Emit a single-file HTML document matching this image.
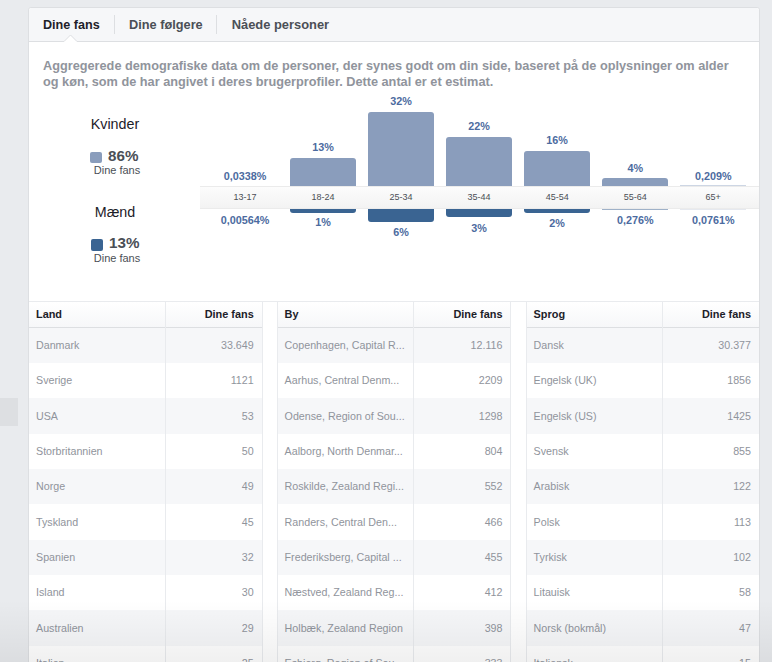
<!DOCTYPE html>
<html><head><meta charset="utf-8"><style>
html,body{margin:0;padding:0}
body{width:772px;height:662px;overflow:hidden;position:relative;background:#e9ebee;font-family:"Liberation Sans", sans-serif}
.t{position:absolute;white-space:nowrap}
</style></head><body>
<div style="position:absolute;left:0;top:398px;width:18px;height:28px;background:#dddfe2"></div>
<div style="position:absolute;left:28px;top:7px;width:730px;height:700px;background:#fff;border:1px solid #dddfe2;border-radius:3px"></div>
<div style="position:absolute;left:29px;top:8px;width:730px;height:33px;background:#f6f7f9;border-bottom:1px solid #dddfe2;border-radius:3px 3px 0 0"></div>
<div style="position:absolute;left:114px;top:15px;width:1px;height:19px;background:#dddfe2"></div>
<div style="position:absolute;left:216px;top:15px;width:1px;height:19px;background:#dddfe2"></div>
<svg style="position:absolute;left:62px;top:34px" width="18" height="9" viewBox="0 0 18 9"><path d="M0 7.5 L2 7.5 L8.5 1 L15 7.5 L18 7.5 L18 9 L0 9 Z" fill="#fff"/><path d="M0 7.5 L2 7.5 L8.5 1 L15 7.5 L18 7.5" fill="none" stroke="#dddfe2" stroke-width="1"/></svg>
<div class="t" style="left:43px;top:19.33px;font-size:12.6px;line-height:12.6px;color:#1d2129;font-weight:bold;">Dine fans</div>
<div class="t" style="left:129px;top:19.21px;font-size:12.75px;line-height:12.75px;color:#4b4f56;font-weight:bold;">Dine følgere</div>
<div class="t" style="left:231.7px;top:19.08px;font-size:12.9px;line-height:12.9px;color:#4b4f56;font-weight:bold;">Nåede personer</div>
<div class="t" style="left:43px;top:59.83px;font-size:12.72px;line-height:12.72px;color:#90949c;font-weight:bold;">Aggregerede demografiske data om de personer, der synes godt om din side, baseret på de oplysninger om alder</div>
<div class="t" style="left:43px;top:75.83px;font-size:12.72px;line-height:12.72px;color:#90949c;font-weight:bold;">og køn, som de har angivet i deres brugerprofiler. Dette antal er et estimat.</div>
<div class="t" style="left:-85px;width:400px;text-align:center;top:116.70px;font-size:14.3px;line-height:14.3px;color:#1d2129;font-weight:normal;">Kvinder</div>
<div style="position:absolute;left:90px;top:152px;width:12px;height:11px;background:#8a9dbc;border-radius:2px"></div>
<div class="t" style="left:108px;top:148.03px;font-size:15.2px;line-height:15.2px;color:#4b4f56;font-weight:bold;">86%</div>
<div class="t" style="left:-83px;width:400px;text-align:center;top:165.29px;font-size:11px;line-height:11px;color:#4b4f56;font-weight:normal;">Dine fans</div>
<div class="t" style="left:-85px;width:400px;text-align:center;top:204.60px;font-size:14.3px;line-height:14.3px;color:#1d2129;font-weight:normal;">Mænd</div>
<div style="position:absolute;left:91px;top:239px;width:11.5px;height:11.5px;background:#3a6492;border-radius:2px"></div>
<div class="t" style="left:109px;top:234.53px;font-size:15.2px;line-height:15.2px;color:#4b4f56;font-weight:bold;">13%</div>
<div class="t" style="left:-83px;width:400px;text-align:center;top:252.99px;font-size:11px;line-height:11px;color:#4b4f56;font-weight:normal;">Dine fans</div>
<div class="t" style="left:45.0px;width:400px;text-align:center;top:170.86px;font-size:10.8px;line-height:10.8px;color:#4c6ba0;font-weight:bold;">0,0338%</div>
<div class="t" style="left:45.0px;width:400px;text-align:center;top:214.86px;font-size:10.8px;line-height:10.8px;color:#4c6ba0;font-weight:bold;">0,00564%</div>
<div style="position:absolute;left:290.04px;top:158px;width:66px;height:38.00px;background:#8a9dbc;border-radius:3px 3px 0 0"></div>
<div class="t" style="left:123.04000000000002px;width:400px;text-align:center;top:142.26px;font-size:10.8px;line-height:10.8px;color:#4c6ba0;font-weight:bold;">13%</div>
<div style="position:absolute;left:290.04px;top:200px;width:66px;height:12.50px;background:#3a6492;border-radius:0 0 3px 3px"></div>
<div class="t" style="left:123.04000000000002px;width:400px;text-align:center;top:217.36px;font-size:10.8px;line-height:10.8px;color:#4c6ba0;font-weight:bold;">1%</div>
<div style="position:absolute;left:368.08px;top:112px;width:66px;height:84.00px;background:#8a9dbc;border-radius:3px 3px 0 0"></div>
<div class="t" style="left:201.08000000000004px;width:400px;text-align:center;top:96.26px;font-size:10.8px;line-height:10.8px;color:#4c6ba0;font-weight:bold;">32%</div>
<div style="position:absolute;left:368.08px;top:200px;width:66px;height:22.00px;background:#3a6492;border-radius:0 0 3px 3px"></div>
<div class="t" style="left:201.08000000000004px;width:400px;text-align:center;top:227.06px;font-size:10.8px;line-height:10.8px;color:#4c6ba0;font-weight:bold;">6%</div>
<div style="position:absolute;left:446.12px;top:137.3px;width:66px;height:58.70px;background:#8a9dbc;border-radius:3px 3px 0 0"></div>
<div class="t" style="left:279.12px;width:400px;text-align:center;top:121.46px;font-size:10.8px;line-height:10.8px;color:#4c6ba0;font-weight:bold;">22%</div>
<div style="position:absolute;left:446.12px;top:200px;width:66px;height:17.00px;background:#3a6492;border-radius:0 0 3px 3px"></div>
<div class="t" style="left:279.12px;width:400px;text-align:center;top:222.86px;font-size:10.8px;line-height:10.8px;color:#4c6ba0;font-weight:bold;">3%</div>
<div style="position:absolute;left:524.16px;top:151.1px;width:66px;height:44.90px;background:#8a9dbc;border-radius:3px 3px 0 0"></div>
<div class="t" style="left:357.1600000000001px;width:400px;text-align:center;top:134.96px;font-size:10.8px;line-height:10.8px;color:#4c6ba0;font-weight:bold;">16%</div>
<div style="position:absolute;left:524.16px;top:200px;width:66px;height:13.00px;background:#3a6492;border-radius:0 0 3px 3px"></div>
<div class="t" style="left:357.1600000000001px;width:400px;text-align:center;top:218.46px;font-size:10.8px;line-height:10.8px;color:#4c6ba0;font-weight:bold;">2%</div>
<div style="position:absolute;left:602.20px;top:178px;width:66px;height:18.00px;background:#8a9dbc;border-radius:3px 3px 0 0"></div>
<div class="t" style="left:435.20000000000005px;width:400px;text-align:center;top:162.56px;font-size:10.8px;line-height:10.8px;color:#4c6ba0;font-weight:bold;">4%</div>
<div class="t" style="left:435.20000000000005px;width:400px;text-align:center;top:214.96px;font-size:10.8px;line-height:10.8px;color:#4c6ba0;font-weight:bold;">0,276%</div>
<div class="t" style="left:513.24px;width:400px;text-align:center;top:170.86px;font-size:10.8px;line-height:10.8px;color:#4c6ba0;font-weight:bold;">0,209%</div>
<div class="t" style="left:513.24px;width:400px;text-align:center;top:215.26px;font-size:10.8px;line-height:10.8px;color:#4c6ba0;font-weight:bold;">0,0761%</div>
<div style="position:absolute;left:680.24px;top:185px;width:66px;height:1px;background:#cdd6e4"></div>
<div style="position:absolute;left:602.20px;top:209px;width:66px;height:1px;background:#9fb1c8"></div>
<div style="position:absolute;left:680.24px;top:209px;width:66px;height:1px;background:#e6e9ef"></div>
<div style="position:absolute;left:200px;top:186px;width:559px;height:23px;background:linear-gradient(#fcfcfc,#f3f3f3);border-top:1px solid #ebebeb;border-bottom:1px solid #ebebeb;box-sizing:border-box"></div>
<div class="t" style="left:45.0px;width:400px;text-align:center;top:193.38px;font-size:9px;line-height:9px;color:#4b4f56;font-weight:normal;">13-17</div>
<div class="t" style="left:123.04000000000002px;width:400px;text-align:center;top:193.38px;font-size:9px;line-height:9px;color:#4b4f56;font-weight:normal;">18-24</div>
<div class="t" style="left:201.08000000000004px;width:400px;text-align:center;top:193.38px;font-size:9px;line-height:9px;color:#4b4f56;font-weight:normal;">25-34</div>
<div class="t" style="left:279.12px;width:400px;text-align:center;top:193.38px;font-size:9px;line-height:9px;color:#4b4f56;font-weight:normal;">35-44</div>
<div class="t" style="left:357.1600000000001px;width:400px;text-align:center;top:193.38px;font-size:9px;line-height:9px;color:#4b4f56;font-weight:normal;">45-54</div>
<div class="t" style="left:435.20000000000005px;width:400px;text-align:center;top:193.38px;font-size:9px;line-height:9px;color:#4b4f56;font-weight:normal;">55-64</div>
<div class="t" style="left:513.24px;width:400px;text-align:center;top:193.38px;font-size:9px;line-height:9px;color:#4b4f56;font-weight:normal;">65+</div>
<div style="position:absolute;left:29px;top:301px;width:730px;height:1px;background:#e9ebee"></div>
<div style="position:absolute;left:29px;top:302px;width:233px;height:25.5px;background:linear-gradient(#fff,#f6f7f9)"></div>
<div style="position:absolute;left:29px;top:327px;width:233px;height:1px;background:#dddfe2"></div>
<div style="position:absolute;left:29px;top:327.80px;width:233px;height:35.33px;background:#f6f7f9"></div>
<div style="position:absolute;left:29px;top:363.13px;width:233px;height:35.33px;background:#fff"></div>
<div style="position:absolute;left:29px;top:398.46px;width:233px;height:35.33px;background:#f6f7f9"></div>
<div style="position:absolute;left:29px;top:433.79px;width:233px;height:35.33px;background:#fff"></div>
<div style="position:absolute;left:29px;top:469.12px;width:233px;height:35.33px;background:#f6f7f9"></div>
<div style="position:absolute;left:29px;top:504.45px;width:233px;height:35.33px;background:#fff"></div>
<div style="position:absolute;left:29px;top:539.78px;width:233px;height:35.33px;background:#f6f7f9"></div>
<div style="position:absolute;left:29px;top:575.11px;width:233px;height:35.33px;background:#fff"></div>
<div style="position:absolute;left:29px;top:610.44px;width:233px;height:35.33px;background:#f6f7f9"></div>
<div style="position:absolute;left:29px;top:645.77px;width:233px;height:35.33px;background:#fff"></div>
<div style="position:absolute;left:262px;top:302px;width:1px;height:400px;background:#e9ebee"></div>
<div style="position:absolute;left:164.6px;top:302px;width:1px;height:400px;background:#e9ebee"></div>
<div class="t" style="left:36px;top:308.57px;font-size:10.9px;line-height:10.9px;color:#1d2129;font-weight:bold;">Land</div>
<div class="t" style="right:518.3px;top:308.57px;font-size:10.9px;line-height:10.9px;color:#1d2129;font-weight:bold;">Dine fans</div>
<div class="t" style="left:36px;top:340.14px;font-size:10.7px;line-height:10.7px;color:#90949c;font-weight:normal;">Danmark</div>
<div class="t" style="right:518.3px;top:340.14px;font-size:10.7px;line-height:10.7px;color:#90949c;font-weight:normal;">33.649</div>
<div class="t" style="left:36px;top:375.47px;font-size:10.7px;line-height:10.7px;color:#90949c;font-weight:normal;">Sverige</div>
<div class="t" style="right:518.3px;top:375.47px;font-size:10.7px;line-height:10.7px;color:#90949c;font-weight:normal;">1121</div>
<div class="t" style="left:36px;top:410.80px;font-size:10.7px;line-height:10.7px;color:#90949c;font-weight:normal;">USA</div>
<div class="t" style="right:518.3px;top:410.80px;font-size:10.7px;line-height:10.7px;color:#90949c;font-weight:normal;">53</div>
<div class="t" style="left:36px;top:446.13px;font-size:10.7px;line-height:10.7px;color:#90949c;font-weight:normal;">Storbritannien</div>
<div class="t" style="right:518.3px;top:446.13px;font-size:10.7px;line-height:10.7px;color:#90949c;font-weight:normal;">50</div>
<div class="t" style="left:36px;top:481.46px;font-size:10.7px;line-height:10.7px;color:#90949c;font-weight:normal;">Norge</div>
<div class="t" style="right:518.3px;top:481.46px;font-size:10.7px;line-height:10.7px;color:#90949c;font-weight:normal;">49</div>
<div class="t" style="left:36px;top:516.79px;font-size:10.7px;line-height:10.7px;color:#90949c;font-weight:normal;">Tyskland</div>
<div class="t" style="right:518.3px;top:516.79px;font-size:10.7px;line-height:10.7px;color:#90949c;font-weight:normal;">45</div>
<div class="t" style="left:36px;top:552.12px;font-size:10.7px;line-height:10.7px;color:#90949c;font-weight:normal;">Spanien</div>
<div class="t" style="right:518.3px;top:552.12px;font-size:10.7px;line-height:10.7px;color:#90949c;font-weight:normal;">32</div>
<div class="t" style="left:36px;top:587.45px;font-size:10.7px;line-height:10.7px;color:#90949c;font-weight:normal;">Island</div>
<div class="t" style="right:518.3px;top:587.45px;font-size:10.7px;line-height:10.7px;color:#90949c;font-weight:normal;">30</div>
<div class="t" style="left:36px;top:622.78px;font-size:10.7px;line-height:10.7px;color:#90949c;font-weight:normal;">Australien</div>
<div class="t" style="right:518.3px;top:622.78px;font-size:10.7px;line-height:10.7px;color:#90949c;font-weight:normal;">29</div>
<div class="t" style="left:36px;top:658.11px;font-size:10.7px;line-height:10.7px;color:#90949c;font-weight:normal;">Italien</div>
<div class="t" style="right:518.3px;top:658.11px;font-size:10.7px;line-height:10.7px;color:#90949c;font-weight:normal;">25</div>
<div style="position:absolute;left:278px;top:302px;width:232px;height:25.5px;background:linear-gradient(#fff,#f6f7f9)"></div>
<div style="position:absolute;left:278px;top:327px;width:232px;height:1px;background:#dddfe2"></div>
<div style="position:absolute;left:278px;top:327.80px;width:232px;height:35.33px;background:#f6f7f9"></div>
<div style="position:absolute;left:278px;top:363.13px;width:232px;height:35.33px;background:#fff"></div>
<div style="position:absolute;left:278px;top:398.46px;width:232px;height:35.33px;background:#f6f7f9"></div>
<div style="position:absolute;left:278px;top:433.79px;width:232px;height:35.33px;background:#fff"></div>
<div style="position:absolute;left:278px;top:469.12px;width:232px;height:35.33px;background:#f6f7f9"></div>
<div style="position:absolute;left:278px;top:504.45px;width:232px;height:35.33px;background:#fff"></div>
<div style="position:absolute;left:278px;top:539.78px;width:232px;height:35.33px;background:#f6f7f9"></div>
<div style="position:absolute;left:278px;top:575.11px;width:232px;height:35.33px;background:#fff"></div>
<div style="position:absolute;left:278px;top:610.44px;width:232px;height:35.33px;background:#f6f7f9"></div>
<div style="position:absolute;left:278px;top:645.77px;width:232px;height:35.33px;background:#fff"></div>
<div style="position:absolute;left:277px;top:302px;width:1px;height:400px;background:#e9ebee"></div>
<div style="position:absolute;left:510px;top:302px;width:1px;height:400px;background:#e9ebee"></div>
<div style="position:absolute;left:413px;top:302px;width:1px;height:400px;background:#e9ebee"></div>
<div class="t" style="left:284.6px;top:308.57px;font-size:10.9px;line-height:10.9px;color:#1d2129;font-weight:bold;">By</div>
<div class="t" style="right:269.5px;top:308.57px;font-size:10.9px;line-height:10.9px;color:#1d2129;font-weight:bold;">Dine fans</div>
<div class="t" style="left:284.6px;top:340.14px;font-size:10.7px;line-height:10.7px;color:#90949c;font-weight:normal;">Copenhagen, Capital R...</div>
<div class="t" style="right:269.5px;top:340.14px;font-size:10.7px;line-height:10.7px;color:#90949c;font-weight:normal;">12.116</div>
<div class="t" style="left:284.6px;top:375.47px;font-size:10.7px;line-height:10.7px;color:#90949c;font-weight:normal;">Aarhus, Central Denm...</div>
<div class="t" style="right:269.5px;top:375.47px;font-size:10.7px;line-height:10.7px;color:#90949c;font-weight:normal;">2209</div>
<div class="t" style="left:284.6px;top:410.80px;font-size:10.7px;line-height:10.7px;color:#90949c;font-weight:normal;">Odense, Region of Sou...</div>
<div class="t" style="right:269.5px;top:410.80px;font-size:10.7px;line-height:10.7px;color:#90949c;font-weight:normal;">1298</div>
<div class="t" style="left:284.6px;top:446.13px;font-size:10.7px;line-height:10.7px;color:#90949c;font-weight:normal;">Aalborg, North Denmar...</div>
<div class="t" style="right:269.5px;top:446.13px;font-size:10.7px;line-height:10.7px;color:#90949c;font-weight:normal;">804</div>
<div class="t" style="left:284.6px;top:481.46px;font-size:10.7px;line-height:10.7px;color:#90949c;font-weight:normal;">Roskilde, Zealand Regi...</div>
<div class="t" style="right:269.5px;top:481.46px;font-size:10.7px;line-height:10.7px;color:#90949c;font-weight:normal;">552</div>
<div class="t" style="left:284.6px;top:516.79px;font-size:10.7px;line-height:10.7px;color:#90949c;font-weight:normal;">Randers, Central Den...</div>
<div class="t" style="right:269.5px;top:516.79px;font-size:10.7px;line-height:10.7px;color:#90949c;font-weight:normal;">466</div>
<div class="t" style="left:284.6px;top:552.12px;font-size:10.7px;line-height:10.7px;color:#90949c;font-weight:normal;">Frederiksberg, Capital ...</div>
<div class="t" style="right:269.5px;top:552.12px;font-size:10.7px;line-height:10.7px;color:#90949c;font-weight:normal;">455</div>
<div class="t" style="left:284.6px;top:587.45px;font-size:10.7px;line-height:10.7px;color:#90949c;font-weight:normal;">Næstved, Zealand Reg...</div>
<div class="t" style="right:269.5px;top:587.45px;font-size:10.7px;line-height:10.7px;color:#90949c;font-weight:normal;">412</div>
<div class="t" style="left:284.6px;top:622.78px;font-size:10.7px;line-height:10.7px;color:#90949c;font-weight:normal;">Holbæk, Zealand Region</div>
<div class="t" style="right:269.5px;top:622.78px;font-size:10.7px;line-height:10.7px;color:#90949c;font-weight:normal;">398</div>
<div class="t" style="left:284.6px;top:658.11px;font-size:10.7px;line-height:10.7px;color:#90949c;font-weight:normal;">Esbjerg, Region of Sou...</div>
<div class="t" style="right:269.5px;top:658.11px;font-size:10.7px;line-height:10.7px;color:#90949c;font-weight:normal;">333</div>
<div style="position:absolute;left:527px;top:302px;width:232px;height:25.5px;background:linear-gradient(#fff,#f6f7f9)"></div>
<div style="position:absolute;left:527px;top:327px;width:232px;height:1px;background:#dddfe2"></div>
<div style="position:absolute;left:527px;top:327.80px;width:232px;height:35.33px;background:#f6f7f9"></div>
<div style="position:absolute;left:527px;top:363.13px;width:232px;height:35.33px;background:#fff"></div>
<div style="position:absolute;left:527px;top:398.46px;width:232px;height:35.33px;background:#f6f7f9"></div>
<div style="position:absolute;left:527px;top:433.79px;width:232px;height:35.33px;background:#fff"></div>
<div style="position:absolute;left:527px;top:469.12px;width:232px;height:35.33px;background:#f6f7f9"></div>
<div style="position:absolute;left:527px;top:504.45px;width:232px;height:35.33px;background:#fff"></div>
<div style="position:absolute;left:527px;top:539.78px;width:232px;height:35.33px;background:#f6f7f9"></div>
<div style="position:absolute;left:527px;top:575.11px;width:232px;height:35.33px;background:#fff"></div>
<div style="position:absolute;left:527px;top:610.44px;width:232px;height:35.33px;background:#f6f7f9"></div>
<div style="position:absolute;left:527px;top:645.77px;width:232px;height:35.33px;background:#fff"></div>
<div style="position:absolute;left:526px;top:302px;width:1px;height:400px;background:#e9ebee"></div>
<div style="position:absolute;left:662px;top:302px;width:1px;height:400px;background:#e9ebee"></div>
<div class="t" style="left:533.6px;top:308.57px;font-size:10.9px;line-height:10.9px;color:#1d2129;font-weight:bold;">Sprog</div>
<div class="t" style="right:21px;top:308.57px;font-size:10.9px;line-height:10.9px;color:#1d2129;font-weight:bold;">Dine fans</div>
<div class="t" style="left:533.6px;top:340.14px;font-size:10.7px;line-height:10.7px;color:#90949c;font-weight:normal;">Dansk</div>
<div class="t" style="right:21px;top:340.14px;font-size:10.7px;line-height:10.7px;color:#90949c;font-weight:normal;">30.377</div>
<div class="t" style="left:533.6px;top:375.47px;font-size:10.7px;line-height:10.7px;color:#90949c;font-weight:normal;">Engelsk (UK)</div>
<div class="t" style="right:21px;top:375.47px;font-size:10.7px;line-height:10.7px;color:#90949c;font-weight:normal;">1856</div>
<div class="t" style="left:533.6px;top:410.80px;font-size:10.7px;line-height:10.7px;color:#90949c;font-weight:normal;">Engelsk (US)</div>
<div class="t" style="right:21px;top:410.80px;font-size:10.7px;line-height:10.7px;color:#90949c;font-weight:normal;">1425</div>
<div class="t" style="left:533.6px;top:446.13px;font-size:10.7px;line-height:10.7px;color:#90949c;font-weight:normal;">Svensk</div>
<div class="t" style="right:21px;top:446.13px;font-size:10.7px;line-height:10.7px;color:#90949c;font-weight:normal;">855</div>
<div class="t" style="left:533.6px;top:481.46px;font-size:10.7px;line-height:10.7px;color:#90949c;font-weight:normal;">Arabisk</div>
<div class="t" style="right:21px;top:481.46px;font-size:10.7px;line-height:10.7px;color:#90949c;font-weight:normal;">122</div>
<div class="t" style="left:533.6px;top:516.79px;font-size:10.7px;line-height:10.7px;color:#90949c;font-weight:normal;">Polsk</div>
<div class="t" style="right:21px;top:516.79px;font-size:10.7px;line-height:10.7px;color:#90949c;font-weight:normal;">113</div>
<div class="t" style="left:533.6px;top:552.12px;font-size:10.7px;line-height:10.7px;color:#90949c;font-weight:normal;">Tyrkisk</div>
<div class="t" style="right:21px;top:552.12px;font-size:10.7px;line-height:10.7px;color:#90949c;font-weight:normal;">102</div>
<div class="t" style="left:533.6px;top:587.45px;font-size:10.7px;line-height:10.7px;color:#90949c;font-weight:normal;">Litauisk</div>
<div class="t" style="right:21px;top:587.45px;font-size:10.7px;line-height:10.7px;color:#90949c;font-weight:normal;">58</div>
<div class="t" style="left:533.6px;top:622.78px;font-size:10.7px;line-height:10.7px;color:#90949c;font-weight:normal;">Norsk (bokmål)</div>
<div class="t" style="right:21px;top:622.78px;font-size:10.7px;line-height:10.7px;color:#90949c;font-weight:normal;">47</div>
<div class="t" style="left:533.6px;top:658.11px;font-size:10.7px;line-height:10.7px;color:#90949c;font-weight:normal;">Italiensk</div>
<div class="t" style="right:21px;top:658.11px;font-size:10.7px;line-height:10.7px;color:#90949c;font-weight:normal;">15</div>
<div style="position:absolute;left:0;top:600px;width:772px;height:62px;background:linear-gradient(rgba(0,0,0,0),rgba(0,0,0,0.06))"></div>
</body></html>
